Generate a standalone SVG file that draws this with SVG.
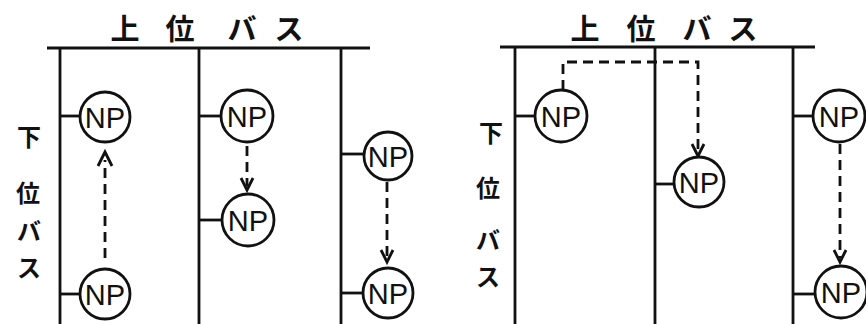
<svg xmlns="http://www.w3.org/2000/svg" width="866" height="324" viewBox="0 0 866 324">
<style>
.bus{stroke:#111;stroke-width:2.8;fill:none}
.np circle{fill:#fff;stroke:#111;stroke-width:2.8}
.np text{font-family:"Liberation Sans",sans-serif;font-size:29px;fill:#111;text-anchor:middle}
.dash{stroke:#111;stroke-width:2.8;fill:none;stroke-dasharray:10 6}
.head{stroke:#111;stroke-width:2.8;fill:none;stroke-linejoin:miter}
.jp{font-family:"Noto Sans CJK JP",sans-serif;font-weight:bold;fill:#111;text-anchor:middle}
.t{font-size:29px}
.s{font-size:24px}
</style>
<rect width="866" height="324" fill="#fff"/>
<g id="labels">
<text class="jp t" x="125" y="40">上</text>
<text class="jp t" x="180" y="40">位</text>
<text class="jp t" x="242" y="40">バ</text>
<text class="jp t" x="289" y="40">ス</text>
<text class="jp s" x="29" y="146">下</text>
<text class="jp s" x="28" y="202">位</text>
<text class="jp s" x="29" y="240">バ</text>
<text class="jp s" x="29" y="277">ス</text>
<text class="jp t" x="585" y="40">上</text>
<text class="jp t" x="641" y="40">位</text>
<text class="jp t" x="697" y="40">バ</text>
<text class="jp t" x="743" y="40">ス</text>
<text class="jp s" x="491" y="142">下</text>
<text class="jp s" x="488" y="197">位</text>
<text class="jp s" x="488" y="249">バ</text>
<text class="jp s" x="488" y="286">ス</text>
</g>
<g id="buses">
<line class="bus" x1="47" y1="48" x2="370" y2="48"/>
<line class="bus" x1="60" y1="48" x2="60" y2="324"/>
<line class="bus" x1="199" y1="48" x2="199" y2="324"/>
<line class="bus" x1="341" y1="48" x2="341" y2="324"/>
<line class="bus" x1="500" y1="47" x2="815" y2="47"/>
<line class="bus" x1="515" y1="47" x2="515" y2="324"/>
<line class="bus" x1="655" y1="47" x2="655" y2="324"/>
<line class="bus" x1="793" y1="47" x2="793" y2="324"/>
<line class="bus" x1="60" y1="116" x2="80" y2="116"/>
<line class="bus" x1="199" y1="116" x2="221" y2="116"/>
<line class="bus" x1="341" y1="154" x2="364" y2="154"/>
<line class="bus" x1="60" y1="294" x2="80" y2="294"/>
<line class="bus" x1="199" y1="220" x2="222" y2="220"/>
<line class="bus" x1="341" y1="293" x2="363" y2="293"/>
<line class="bus" x1="515" y1="116" x2="536" y2="116"/>
<line class="bus" x1="655" y1="184" x2="676" y2="184"/>
<line class="bus" x1="793" y1="116" x2="814" y2="116"/>
<line class="bus" x1="793" y1="294" x2="816" y2="294"/>
</g>
<g id="connectors">
<line class="dash" x1="105" y1="258" x2="105" y2="160"/>
<polyline class="head" points="98,166 105,152 112,166"/>
<line class="dash" x1="247" y1="146" x2="247" y2="186"/>
<polyline class="head" points="241,178 247,190 253,178"/>
<line class="dash" x1="387" y1="182" x2="387" y2="258"/>
<polyline class="head" points="381,250 387,262 393,250"/>
<path class="dash" d="M563,90 V62 H698 V152"/>
<polyline class="head" points="692,144 698,156 704,144"/>
<line class="dash" x1="840" y1="144" x2="840" y2="258"/>
<polyline class="head" points="834,250 840,262 846,250"/>
</g>
<g id="np1" class="np"><circle cx="105" cy="117" r="25"/><text x="105" y="127.5">NP</text></g>
<g id="np2" class="np"><circle cx="247" cy="116" r="26"/><text x="247" y="126.5">NP</text></g>
<g id="np3" class="np"><circle cx="388" cy="156" r="24"/><text x="388" y="166.5">NP</text></g>
<g id="np4" class="np"><circle cx="105" cy="294" r="25"/><text x="105" y="304.5">NP</text></g>
<g id="np5" class="np"><circle cx="248" cy="220" r="26"/><text x="248" y="230.5">NP</text></g>
<g id="np6" class="np"><circle cx="388" cy="293" r="25"/><text x="388" y="303.5">NP</text></g>
<g id="np7" class="np"><circle cx="561" cy="116" r="26"/><text x="561" y="126.5">NP</text></g>
<g id="np8" class="np"><circle cx="699" cy="182" r="25"/><text x="699" y="192.5">NP</text></g>
<g id="np9" class="np"><circle cx="839" cy="116" r="26"/><text x="839" y="126.5">NP</text></g>
<g id="np10" class="np"><circle cx="841" cy="292" r="26"/><text x="841" y="302.5">NP</text></g>
</svg>
